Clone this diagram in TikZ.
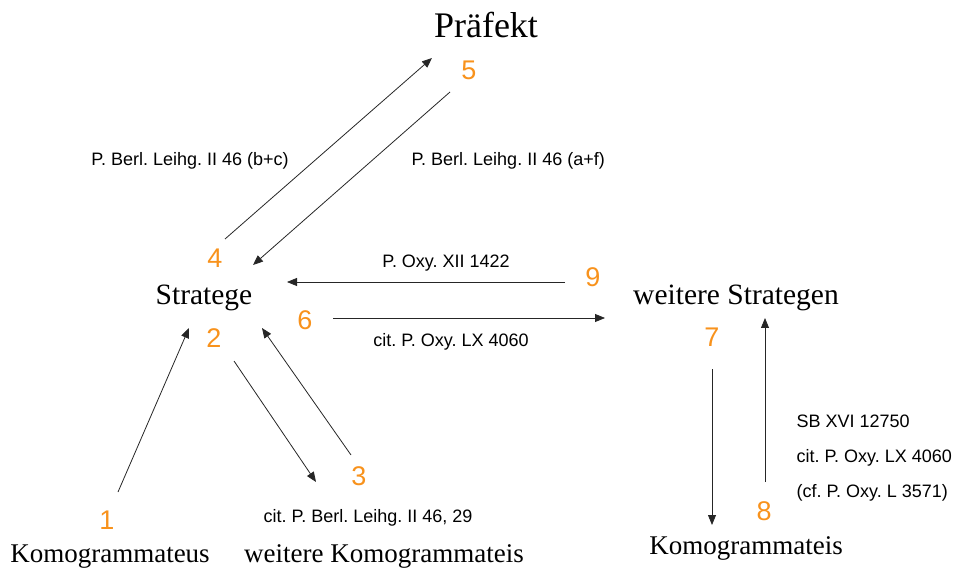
\documentclass[tikz,border=0pt]{standalone}
\usepackage{fontspec}
\setmainfont{Liberation Serif}
\setsansfont{Liberation Sans}
\usetikzlibrary{arrows.meta}
\definecolor{numorange}{RGB}{248,146,28}
\frenchspacing

\begin{document}
\begin{tikzpicture}[
        %We set the unit and define some styles
        x=1pt, y=-1pt,
        office/.style={anchor=base, font=\fontsize{28}{30}\selectfont},
        number/.style={anchor=base, color=numorange, font=\sffamily\fontsize{27}{29}\selectfont},
        source/.style={anchor=base, font=\sffamily\fontsize{18}{20}\selectfont},
        link/.style={line width=0.8pt, color=black!85, -{Triangle[length=10pt,width=8pt]}},
    ]
    \useasboundingbox (0,0) rectangle (956,569);
    % offices
    \node[office, font=\fontsize{36}{38}\selectfont] (praefekt) at (486,38) {Präfekt};
    \node[office, font=\fontsize{29.5}{31}\selectfont] (stratege) at (204,305) {Stratege};
    \node[office, font=\fontsize{29.5}{31}\selectfont] (strategen) at (736,305) {weitere Strategen};
    \node[office, font=\fontsize{27}{29}\selectfont] (komo) at (110,562) {Komogrammateus};
    \node[office, font=\fontsize{27}{29}\selectfont] (komoi) at (384,562) {weitere Komogrammateis};
    \node[office, font=\fontsize{27}{29}\selectfont] (komoii) at (746,554) {Komogrammateis};

    % numbers
    \node[number] (n1) at (107,529) {1};
    \node[number] (n2) at (214,348) {2};
    \node[number] (n3) at (359,485) {3};
    \node[number] (n4) at (215,268) {4};
    \node[number] (n5) at (469,80) {5};
    \node[number] (n6) at (305,330) {6};
    \node[number] (n7) at (712,347) {7};
    \node[number] (n8) at (764,520) {8};
    \node[number] (n9) at (593,287) {9};

    % sources
    \node[source] (bc) at (190,166) {P. Berl. Leihg. II 46 (b+c)};
    \node[source, anchor=base west] (af) at (408,166) {P. Berl. Leihg. II 46 (a+f)};
    \node[source] (oxy) at (446,268) {P. Oxy. XII 1422};
    \node[source] (citoxy) at (451,347) {cit. P. Oxy. LX 4060};
    \node[source] (citberl) at (368,522) {cit. P. Berl. Leihg. II 46, 29};
    \node[source, anchor=base west] (sb) at (793,427) {SB XVI 12750};
    \node[source, anchor=base west] (sbcit) at (793,462) {cit. P. Oxy. LX 4060};
    \node[source, anchor=base west] (sbcf) at (793,497) {(cf. P. Oxy. L 3571)};

    % arrow ends
    \coordinate (up4) at (225,239);
    \coordinate (up4e) at (432,58);
    \coordinate (dn5) at (450,92);
    \coordinate (dn5e) at (253,265);
    \coordinate (lt9) at (565,282);
    \coordinate (lt9e) at (287,282);
    \coordinate (rt6) at (333,318);
    \coordinate (rt6e) at (605,318);
    \coordinate (up1) at (118,492);
    \coordinate (up1e) at (189,328);
    \coordinate (dn2) at (234,361);
    \coordinate (dn2e) at (316,482);
    \coordinate (up3) at (351,455);
    \coordinate (up3e) at (262,328);
    \coordinate (dn7) at (712,369);
    \coordinate (dn7e) at (712,525);
    \coordinate (up8) at (765,482);
    \coordinate (up8e) at (765,318);

    % arrows
    \draw[link] (up4) -- (up4e);
    \draw[link] (dn5) -- (dn5e);
    \draw[link] (lt9) -- (lt9e);
    \draw[link] (rt6) -- (rt6e);
    \draw[link] (up1) -- (up1e);
    \draw[link] (dn2) -- (dn2e);
    \draw[link] (up3) -- (up3e);
    \draw[link] (dn7) -- (dn7e);
    \draw[link] (up8) -- (up8e);
\end{tikzpicture}
\end{document}
